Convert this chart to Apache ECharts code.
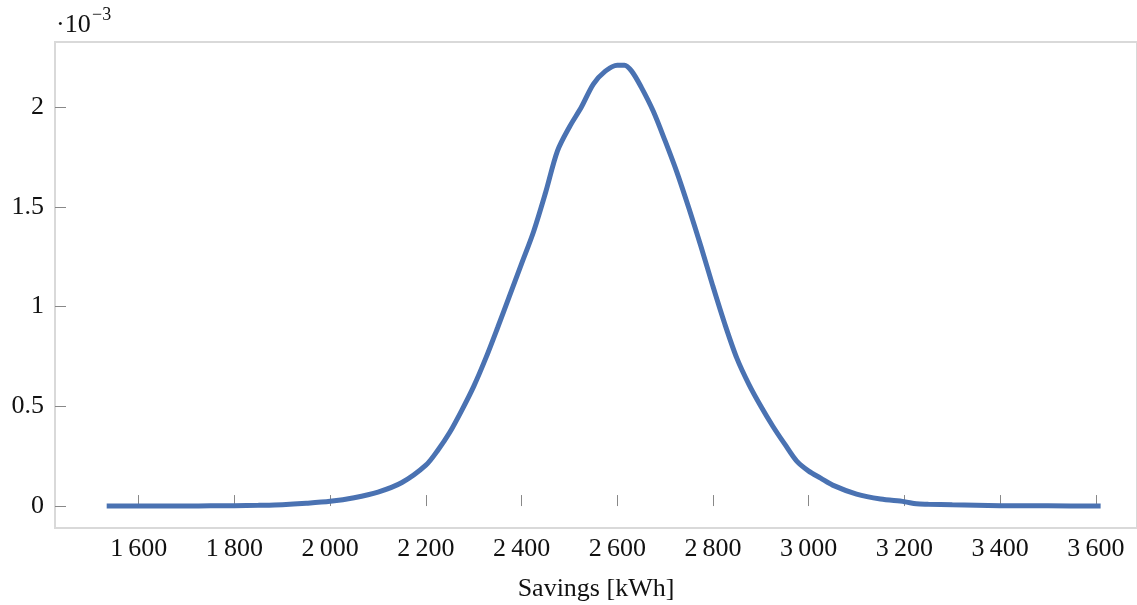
<!DOCTYPE html>
<html>
<head>
<meta charset="utf-8">
<script src="https://cdn.jsdelivr.net/npm/echarts@6/dist/echarts.min.js"></script>
<style>
  html, body { margin: 0; padding: 0; background: #fff; }
  #chart { width: 1137px; height: 605px; }
</style>
</head>
<body>
<div id="chart"></div>
<script>
// savings in kWh, density in units of 10^-3
const savings = [1533, 1600, 1700, 1750, 1800, 1850, 1900, 1950, 2000, 2050, 2100, 2150, 2200, 2225,
  2250, 2275, 2300, 2325, 2350, 2375, 2400, 2425, 2450, 2475, 2500, 2525, 2550, 2575, 2600, 2615,
  2630, 2650, 2675, 2700, 2725, 2750, 2775, 2800, 2825, 2850, 2875, 2900, 2925, 2950, 2975, 3000,
  3025, 3050, 3100, 3150, 3200, 3225, 3250, 3300, 3350, 3400, 3500, 3610]
const density = [0.000, 0.000, 0.000, 0.001, 0.002, 0.004, 0.007, 0.014, 0.024, 0.042, 0.070, 0.118, 0.205, 0.28,
  0.37, 0.48, 0.60, 0.74, 0.895, 1.055, 1.215, 1.375, 1.57, 1.78, 1.90, 2.00, 2.115, 2.18, 2.21, 2.21,
  2.18, 2.10, 1.98, 1.83, 1.67, 1.49, 1.30, 1.10, 0.91, 0.74, 0.61, 0.50, 0.40, 0.31, 0.225, 0.175,
  0.14, 0.105, 0.06, 0.035, 0.022, 0.011, 0.009, 0.006, 0.004, 0.002, 0.001, 0.000]
const xTicks = [1600, 1800, 2000, 2200, 2400, 2600, 2800, 3000, 3200, 3400, 3600]
const yTicks = [0, 0.5, 1, 1.5, 2]

const font = 'Liberation Serif'
const chart = echarts.init(document.getElementById('chart'))

const fmtX = (v) => {
  const s = String(v)
  return s.length > 3 ? s.slice(0, s.length - 3) + '\u2009' + s.slice(-3) : s
}

chart.setOption({
  animation: false,
  grid: {
    left: 55,
    right: 0,
    top: 42,
    bottom: 77,
    outerBoundsMode: 'none',
    containLabel: false,
    show: true,
    borderColor: '#d9d9d9',
    borderWidth: 2,
  },
  graphic: [
    {
      type: 'text',
      left: 56,
      top: 12,
      style: { text: '·10', font: '26px "' + font + '"', fill: '#111' },
    },
    {
      type: 'text',
      left: 92,
      top: 6,
      style: { text: '\u22123', font: '18px "' + font + '"', fill: '#111' },
    },
  ],
  xAxis: {
    type: 'value',
    min: 1425,
    max: 3686,
    name: 'Savings [kWh]',
    nameLocation: 'middle',
    nameGap: 48,
    nameTextStyle: { fontFamily: font, fontSize: 26, color: '#111' },
    axisLine: { show: false },
    splitLine: { show: false },
    axisTick: { show: true, inside: true, length: 11, customValues: xTicks, lineStyle: { color: '#888', width: 1 } },
    axisLabel: { customValues: xTicks, formatter: fmtX, fontFamily: font, fontSize: 26, color: '#111', margin: 8 },
  },
  yAxis: {
    type: 'value',
    min: -0.11,
    max: 2.326,
    axisLine: { show: false },
    splitLine: { show: false },
    axisTick: { show: true, inside: true, length: 11, customValues: yTicks, lineStyle: { color: '#888', width: 1 } },
    axisLabel: { customValues: yTicks, fontFamily: font, fontSize: 26, color: '#111', margin: 11 },
  },
  series: [
    {
      type: 'line',
      data: savings.map((s, i) => [s, density[i]]),
      showSymbol: false,
      smooth: 0.3,
      lineStyle: { color: '#4A72B2', width: 5 },
    },
  ],
})
</script>
</body>
</html>
